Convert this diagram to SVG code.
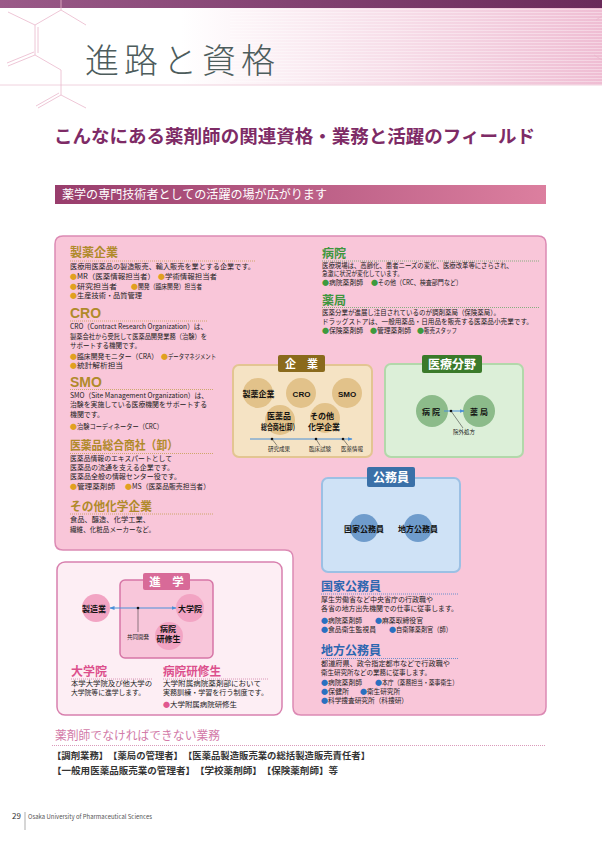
<svg xmlns="http://www.w3.org/2000/svg" width="602" height="842" viewBox="0 0 602 842">
<defs>
<linearGradient id="topbar" x1="0" y1="0" x2="1" y2="0"><stop offset="0" stop-color="#9a5a88"/><stop offset="1" stop-color="#6a2a5a"/></linearGradient>
<linearGradient id="hdr" x1="0" y1="0" x2="1" y2="0"><stop offset="0" stop-color="#ffffff"/><stop offset="0.3" stop-color="#ffffff"/><stop offset="1" stop-color="#efbdd3"/></linearGradient>
<linearGradient id="ban" x1="0" y1="0" x2="1" y2="0"><stop offset="0" stop-color="#983d6c"/><stop offset="1" stop-color="#dc7f9f"/></linearGradient>
<pattern id="stripe" width="4" height="3" patternUnits="userSpaceOnUse"><rect width="4" height="1" fill="#ffffff" fill-opacity="0.35"/></pattern>
<marker id="ah" viewBox="0 0 10 10" refX="9" refY="5" markerWidth="5" markerHeight="5" orient="auto-start-reverse"><path d="M0,1 L10,5 L0,9 z" fill="#4a90d8"/></marker>
<style>
text{font-family:"Noto Sans CJK JP","Noto Sans",sans-serif}
.b{font-size:7px;fill:#222}
.hg{font-size:12px;font-weight:bold;fill:#b08a2a}
.hgl{font-family:"Liberation Sans",Arial,sans-serif;font-size:14px;font-weight:bold;fill:#b08a2a}
.hn{font-size:12px;font-weight:bold;fill:#3d963d}
.hb{font-size:12px;font-weight:bold;fill:#2d66b0}
.hp{font-size:12px;font-weight:bold;fill:#dc4f8c}
.bo{font-size:7px;fill:#e0a020}.bgn{font-size:7px;fill:#3d9a3d}.bbl{font-size:7px;fill:#2a70c0}.bpk{font-size:7px;fill:#e0588f}
.dg{stroke:#c4a050;stroke-width:0.8;stroke-dasharray:1 1}
.dn{stroke:#6aaa6a;stroke-width:0.8;stroke-dasharray:1 1}
.db{stroke:#4a80c8;stroke-width:0.8;stroke-dasharray:1 1}
.dp{stroke:#d080a8;stroke-width:0.8;stroke-dasharray:1 1}
.mol{stroke:#eab8cc;stroke-width:0.8;fill:none}
.lbl{font-weight:bold;fill:#fff;text-anchor:middle}
.cn{font-size:8px;font-weight:bold;fill:#111;text-anchor:middle}
.tiny{font-size:5.5px;fill:#222;text-anchor:middle}
.bl{stroke:#4a90d8;stroke-width:1}
.ld{stroke:#222;stroke-width:0.5}
</style>
</defs>
<rect width="602" height="842" fill="#fff"/>
<g id="header">
<rect x="0" y="8" width="602" height="77" fill="url(#hdr)"/>
<rect x="230" y="8" width="372" height="77" fill="url(#stripe)"/>
<rect x="0" y="0" width="602" height="8" fill="url(#topbar)"/>
<line x1="0" y1="85" x2="602" y2="85" stroke="#ecc6d6" stroke-width="0.8"/>
<g class="mol">
<path d="M35,25 V55 M38,27 V53 M35,25 L61,10 V0 M61,10 L86,25 M35,25 L8,12 M35,55 L61,70 V95 L86,108 M61,95 L38,108 M59,93 L36,106 M35,55 L8,66 M34,52 L7,63"/>
<path d="M596,20 L602,16 M594,55 L602,60"/>
</g>
<text x="85" y="73" font-size="34" font-weight="300" fill="#4d5c5c" letter-spacing="5">進路と資格</text>
</g>
<g id="subtitle"><text x="54" y="143" font-size="18" font-weight="bold" fill="#7e2b66" textLength="481" lengthAdjust="spacingAndGlyphs">こんなにある薬剤師の関連資格・業務と活躍のフィールド</text></g>
<g id="banner">
<rect x="55" y="185" width="491" height="19" fill="url(#ban)"/>
<text x="62" y="199" font-size="12" fill="#fff" textLength="265" lengthAdjust="spacingAndGlyphs">薬学の専門技術者としての活躍の場が広がります</text>
</g>
<g id="panel">
<path d="M63,236 H538 Q546,236 546,244 V707 Q546,715 538,715 H301 Q293,715 293,707 V558 Q293,550 285,550 H63 Q55,550 55,542 V244 Q55,236 63,236 Z" fill="#f9c6d9" stroke="#dc8ab4" stroke-width="1.5"/>
<rect x="57" y="562" width="225" height="153" rx="8" fill="#fdeef4" stroke="#d880ae" stroke-width="1.5"/>
</g>
<g id="sec-seiyaku">
<text class="hg" x="70" y="257">製薬企業</text>
<line class="dg" x1="70" y1="261" x2="255" y2="261"/>
<text class="b" x="70" y="269" textLength="185" lengthAdjust="spacingAndGlyphs">医療用医薬品の製造販売、輸入販売を業とする企業です。</text>
<text class="bo" x="70" y="279">●</text><text class="b" x="77" y="279" textLength="78" lengthAdjust="spacingAndGlyphs">MR（医薬情報担当者）</text>
<text class="bo" x="158" y="279">●</text><text class="b" x="165" y="279" textLength="52" lengthAdjust="spacingAndGlyphs">学術情報担当者</text>
<text class="bo" x="70" y="288.5">●</text><text class="b" x="77" y="288.5" textLength="40" lengthAdjust="spacingAndGlyphs">研究担当者</text>
<text class="bo" x="131" y="288.5">●</text><text class="b" x="138" y="288.5" textLength="64" lengthAdjust="spacingAndGlyphs">開発（臨床開発）担当者</text>
<text class="bo" x="70" y="297.5">●</text><text class="b" x="77" y="297.5" textLength="65" lengthAdjust="spacingAndGlyphs">生産技術・品質管理</text>
</g>
<g id="sec-cro">
<text class="hgl" x="70" y="318">CRO</text>
<line class="dg" x1="70" y1="321" x2="207" y2="321"/>
<text class="b" x="70" y="329" textLength="137" lengthAdjust="spacingAndGlyphs">CRO（Contract Research Organization）は、</text>
<text class="b" x="70" y="338.5" textLength="137" lengthAdjust="spacingAndGlyphs">製薬会社から受託して医薬品開発業務（治験）を</text>
<text class="b" x="70" y="347.5" textLength="71" lengthAdjust="spacingAndGlyphs">サポートする機関です。</text>
<text class="bo" x="70" y="359">●</text><text class="b" x="77" y="359" textLength="81" lengthAdjust="spacingAndGlyphs">臨床開発モニター（CRA）</text>
<text class="bo" x="161" y="359">●</text><text class="b" x="168" y="359" textLength="48" lengthAdjust="spacingAndGlyphs">データマネジメント</text>
<text class="bo" x="70" y="368">●</text><text class="b" x="77" y="368" textLength="46" lengthAdjust="spacingAndGlyphs">統計解析担当</text>
</g>
<g id="sec-smo">
<text class="hgl" x="70" y="387">SMO</text>
<line class="dg" x1="70" y1="389.5" x2="213" y2="389.5"/>
<text class="b" x="70" y="397.5" textLength="138" lengthAdjust="spacingAndGlyphs">SMO（Site Management Organization）は、</text>
<text class="b" x="70" y="407" textLength="137" lengthAdjust="spacingAndGlyphs">治験を実施している医療機関をサポートする</text>
<text class="b" x="70" y="416.5" textLength="34" lengthAdjust="spacingAndGlyphs">機関です。</text>
<text class="bo" x="70" y="428.5">●</text><text class="b" x="77" y="428.5" textLength="86" lengthAdjust="spacingAndGlyphs">治験コーディネーター（CRC）</text>
</g>
<g id="sec-oroshi">
<text class="hg" x="70" y="450" textLength="108" lengthAdjust="spacingAndGlyphs">医薬品総合商社（卸）</text>
<line class="dg" x1="70" y1="453.5" x2="213" y2="453.5"/>
<text class="b" x="70" y="461" textLength="102" lengthAdjust="spacingAndGlyphs">医薬品情報のエキスパートとして</text>
<text class="b" x="70" y="469.5" textLength="104" lengthAdjust="spacingAndGlyphs">医薬品の流通を支える企業です。</text>
<text class="b" x="70" y="478.5" textLength="111" lengthAdjust="spacingAndGlyphs">医薬品全般の情報センター役です。</text>
<text class="bo" x="70" y="489">●</text><text class="b" x="77" y="489" textLength="38" lengthAdjust="spacingAndGlyphs">管理薬剤師</text>
<text class="bo" x="125" y="489">●</text><text class="b" x="132" y="489" textLength="78" lengthAdjust="spacingAndGlyphs">MS（医薬品販売担当者）</text>
</g>
<g id="sec-chemical">
<text class="hg" x="70" y="511" textLength="82" lengthAdjust="spacingAndGlyphs">その他化学企業</text>
<line class="dg" x1="70" y1="514" x2="213" y2="514"/>
<text class="b" x="70" y="522" textLength="80" lengthAdjust="spacingAndGlyphs">食品、醸造、化学工業、</text>
<text class="b" x="70" y="531.5" textLength="85" lengthAdjust="spacingAndGlyphs">繊維、化粧品メーカーなど。</text>
</g>
<g id="sec-hospital">
<text class="hn" x="322" y="257.5">病院</text>
<line class="dn" x1="322" y1="261" x2="540" y2="261"/>
<text class="b" x="322" y="267.8" textLength="191" lengthAdjust="spacingAndGlyphs">医療現場は、高齢化、患者ニーズの変化、医療改革等にさらされ、</text>
<text class="b" x="322" y="276.4" textLength="81" lengthAdjust="spacingAndGlyphs">急激に状況が変化しています。</text>
<text class="bgn" x="322" y="285">●</text><text class="b" x="329" y="285" textLength="34" lengthAdjust="spacingAndGlyphs">病院薬剤師</text>
<text class="bgn" x="371" y="285">●</text><text class="b" x="378" y="285" textLength="84" lengthAdjust="spacingAndGlyphs">その他（CRC、検査部門など）</text>
</g>
<g id="sec-pharmacy">
<text class="hn" x="322" y="304.5">薬局</text>
<line class="dn" x1="322" y1="307.5" x2="540" y2="307.5"/>
<text class="b" x="322" y="315" textLength="178" lengthAdjust="spacingAndGlyphs">医薬分業が進展し注目されているのが調剤薬局（保険薬局）。</text>
<text class="b" x="322" y="323.5" textLength="211" lengthAdjust="spacingAndGlyphs">ドラッグストアは、一般用薬品・日用品を販売する医薬品小売業です。</text>
<text class="bgn" x="322" y="332.5">●</text><text class="b" x="329" y="332.5" textLength="34" lengthAdjust="spacingAndGlyphs">保険薬剤師</text>
<text class="bgn" x="370" y="332.5">●</text><text class="b" x="377" y="332.5" textLength="34" lengthAdjust="spacingAndGlyphs">管理薬剤師</text>
<text class="bgn" x="417" y="332.5">●</text><text class="b" x="424" y="332.5" textLength="33" lengthAdjust="spacingAndGlyphs">販売スタッフ</text>
</g>
<g id="node-kigyo">
<rect x="233" y="365" width="139" height="92" rx="6" fill="#f5e3c4" stroke="#e3c592" stroke-width="2"/>
<rect x="278" y="355" width="47" height="17" rx="2" fill="#8a6a1c"/>
<text class="lbl" x="301.5" y="368" font-size="11">企　業</text>
<g fill="#e2c28a">
<circle cx="258" cy="393" r="15"/><circle cx="301" cy="393" r="15"/><circle cx="347" cy="393" r="15"/>
<circle cx="280" cy="420" r="15"/><circle cx="325" cy="418" r="15"/>
</g>
<text class="cn" x="258.5" y="397">製薬企業</text>
<text class="cn" x="301.5" y="397" style="font-family:'Liberation Sans',Arial,sans-serif" font-size="8.5">CRO</text>
<text class="cn" x="347" y="397" style="font-family:'Liberation Sans',Arial,sans-serif" font-size="8.5">SMO</text>
<text class="cn" x="279" y="418.5" font-size="8.5">医薬品</text>
<text class="cn" x="278" y="429.5" font-size="6.3" textLength="34" lengthAdjust="spacingAndGlyphs">総合商社(卸)</text>
<text class="cn" x="322" y="418.5" font-size="8.5">その他</text>
<text class="cn" x="324" y="429.5">化学企業</text>
<text class="tiny" x="279" y="451">研究成果</text>
<text class="tiny" x="320" y="451">臨床試験</text>
<text class="tiny" x="352" y="451">医薬情報</text>
</g>
<g id="node-iryo">
<rect x="385" y="364" width="138" height="93" rx="6" fill="#dcefd8" stroke="#b2d8aa" stroke-width="2"/>
<rect x="422" y="355" width="60" height="18" rx="2" fill="#3a7a2a"/>
<text class="lbl" x="452" y="369" font-size="12">医療分野</text>
<circle cx="432" cy="411" r="16" fill="#8cbb8a"/>
<circle cx="479" cy="411" r="16" fill="#8cbb8a"/>
<text class="cn" x="432" y="414.5" letter-spacing="2">病院</text>
<text class="cn" x="480" y="414.5" letter-spacing="2">薬局</text>
<text class="tiny" x="464" y="434">院外処方</text>
</g>
<g id="node-komuin">
<rect x="322" y="478" width="138" height="94" rx="6" fill="#cfe2f6" stroke="#9cc0e4" stroke-width="2"/>
<rect x="367" y="467" width="48" height="20" rx="2" fill="#3a70a8"/>
<text class="lbl" x="391" y="482" font-size="12">公務員</text>
<circle cx="364" cy="528" r="14" fill="#6f9ccc"/>
<circle cx="418" cy="528" r="14" fill="#6f9ccc"/>
<text class="cn" x="364" y="532">国家公務員</text>
<text class="cn" x="418" y="532">地方公務員</text>
</g>
<g id="sec-kokka">
<text class="hb" x="321" y="590.5">国家公務員</text>
<line class="db" x1="321" y1="594" x2="459" y2="594"/>
<text class="b" x="321" y="602" textLength="112" lengthAdjust="spacingAndGlyphs">厚生労働省など中央省庁の行政職や</text>
<text class="b" x="321" y="610.5" textLength="137" lengthAdjust="spacingAndGlyphs">各省の地方出先機関での仕事に従事します。</text>
<text class="bbl" x="321" y="623">●</text><text class="b" x="328" y="623" textLength="34" lengthAdjust="spacingAndGlyphs">病院薬剤師</text>
<text class="bbl" x="375" y="623">●</text><text class="b" x="382" y="623" textLength="41" lengthAdjust="spacingAndGlyphs">麻薬取締役官</text>
<text class="bbl" x="321" y="632">●</text><text class="b" x="328" y="632" textLength="48" lengthAdjust="spacingAndGlyphs">食品衛生監視員</text>
<text class="bbl" x="389" y="632">●</text><text class="b" x="396" y="632" textLength="56" lengthAdjust="spacingAndGlyphs">自衛隊薬剤官（師）</text>
</g>
<g id="sec-chiho">
<text class="hb" x="321" y="655">地方公務員</text>
<line class="db" x1="321" y1="658.5" x2="459" y2="658.5"/>
<text class="b" x="321" y="666.2" textLength="129" lengthAdjust="spacingAndGlyphs">都道府県、政令指定都市などで行政職や</text>
<text class="b" x="321" y="674.8" textLength="110" lengthAdjust="spacingAndGlyphs">衛生研究所などの業務に従事します。</text>
<text class="bbl" x="321" y="685.3">●</text><text class="b" x="328" y="685.3" textLength="34" lengthAdjust="spacingAndGlyphs">病院薬剤師</text>
<text class="bbl" x="375" y="685.3">●</text><text class="b" x="382" y="685.3" textLength="76" lengthAdjust="spacingAndGlyphs">本庁（薬務担当・薬事衛生）</text>
<text class="bbl" x="321" y="694">●</text><text class="b" x="328" y="694" textLength="21" lengthAdjust="spacingAndGlyphs">保健所</text>
<text class="bbl" x="360" y="694">●</text><text class="b" x="367" y="694" textLength="33" lengthAdjust="spacingAndGlyphs">衛生研究所</text>
<text class="bbl" x="321" y="702.7">●</text><text class="b" x="328" y="702.7" textLength="80" lengthAdjust="spacingAndGlyphs">科学捜査研究所（科捜研）</text>
</g>
<g id="node-shingaku">
<rect x="120" y="580" width="93" height="78" rx="5" fill="#f8c6da" stroke="#d676a6" stroke-width="1.5"/>
<rect x="143" y="573" width="47" height="17" rx="2" fill="#d86a98"/>
<text class="lbl" x="166.5" y="586" font-size="11.5">進　学</text>
<circle cx="96" cy="608" r="14" fill="#f2a4c3"/>
<circle cx="190" cy="608" r="14" fill="#f2a4c3"/>
<circle cx="169" cy="636" r="14" fill="#f2a4c3"/>
<text class="cn" x="94" y="612" font-size="7.5">製造業</text>
<text class="cn" x="190" y="612" font-size="7.5">大学院</text>
<text class="cn" x="168" y="632" font-size="7.5">病院</text>
<text class="cn" x="168.5" y="642" font-size="7.5">研修生</text>
<text class="tiny" x="138" y="639">共同開発</text>
</g>
<g id="sec-daigakuin">
<text class="hp" x="71" y="676">大学院</text>
<line class="dp" x1="71" y1="679" x2="152" y2="679"/>
<text class="b" x="71" y="685.5" textLength="81" lengthAdjust="spacingAndGlyphs">本学大学院及び他大学の</text>
<text class="b" x="71" y="694.5" textLength="74" lengthAdjust="spacingAndGlyphs">大学院等に進学します。</text>
</g>
<g id="sec-kenshu">
<text class="hp" x="163" y="676" textLength="58" lengthAdjust="spacingAndGlyphs">病院研修生</text>
<line class="dp" x1="163" y1="679" x2="268" y2="679"/>
<text class="b" x="163" y="685.5" textLength="98" lengthAdjust="spacingAndGlyphs">大学附属病院薬剤部において</text>
<text class="b" x="163" y="694.5" textLength="105" lengthAdjust="spacingAndGlyphs">実務訓練・学習を行う制度です。</text>
<text class="bpk" x="163" y="707">●</text><text class="b" x="170" y="707" textLength="67" lengthAdjust="spacingAndGlyphs">大学附属病院研修生</text>
</g>
<g id="connectors">
<line class="bl" x1="250" y1="439" x2="352" y2="439" marker-end="url(#ah)"/>
<circle cx="272" cy="439" r="1.3" fill="#111"/><circle cx="316" cy="439" r="1.3" fill="#111"/><circle cx="343" cy="439" r="1.3" fill="#111"/>
<line class="ld" x1="272" y1="439" x2="277" y2="445.5"/>
<line class="ld" x1="316" y1="439" x2="320" y2="445.5"/>
<line class="ld" x1="343" y1="439" x2="348" y2="445.5"/>
<line class="bl" x1="444" y1="411" x2="464" y2="411" marker-end="url(#ah)"/>
<circle cx="451" cy="411" r="1.3" fill="#111"/>
<line class="ld" x1="451" y1="411" x2="463" y2="428"/>
<line class="bl" x1="110" y1="608" x2="176" y2="608" marker-start="url(#ah)" marker-end="url(#ah)"/>
<circle cx="138" cy="608" r="1.3" fill="#111"/>
<line class="ld" x1="138" y1="608" x2="138" y2="632"/>
</g>
<g id="sec-exclusive">
<text x="55" y="740" font-size="12" fill="#d27aa8" textLength="165" lengthAdjust="spacingAndGlyphs">薬剤師でなければできない業務</text>
<line class="dp" x1="52" y1="745.5" x2="545" y2="745.5"/>
<text x="52" y="759" font-size="8.8" font-weight="bold" fill="#333" textLength="318" lengthAdjust="spacingAndGlyphs">【調剤業務】　【薬局の管理者】　【医薬品製造販売業の総括製造販売責任者】</text>
<text x="52" y="774" font-size="8.8" font-weight="bold" fill="#333" textLength="286" lengthAdjust="spacingAndGlyphs">【一般用医薬品販売業の管理者】　【学校薬剤師】　【保険薬剤師】等</text>
</g>
<g id="footer">
<text x="12" y="819" font-family="'Liberation Serif',serif" font-size="8" fill="#333">29</text>
<line x1="25" y1="812" x2="25" y2="830" stroke="#777" stroke-width="0.6"/>
<text x="28" y="818.5" font-family="'Liberation Serif',serif" font-size="6.5" fill="#555" textLength="124" lengthAdjust="spacingAndGlyphs">Osaka University of Pharmaceutical Sciences</text>
</g>
</svg>
